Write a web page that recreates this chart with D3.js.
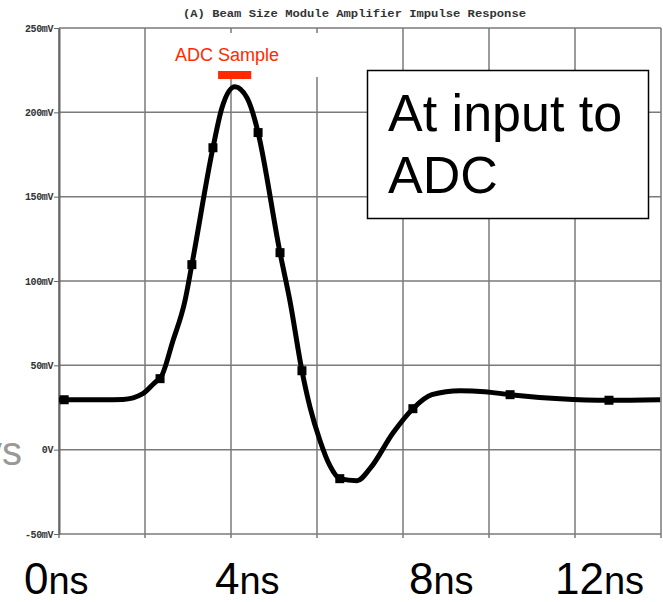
<!DOCTYPE html>
<html>
<head>
<meta charset="utf-8">
<script src="https://cdn.jsdelivr.net/npm/d3@7"></script>
<style>
  body { margin: 0; background: #fff; }
  svg { display: block; }
</style>
</head>
<body>
<div class="chart"></div>
<script>
// WAVEFORM
var timeNs = [0, 0.12, 1.0, 1.49, 1.95, 2.28, 2.35, 2.65, 2.93, 3.09, 3.58, 3.79, 4.09, 4.37, 4.56, 4.63,
  5.14, 5.37, 5.65, 5.84, 6.07, 6.3, 6.53, 6.93, 7.23, 7.77, 8.23, 8.67, 9.33, 9.9, 10.49, 11.65, 12.79, 13.98]
var voltageMv = [29.6, 29.6, 29.6, 29.8, 33.2, 40.9, 42.1, 64.6, 88.3, 109.7, 179, 202.7, 215.2, 208.7, 195, 188,
  116.8, 88.3, 46.8, 24.9, 5.3, -9.5, -17.2, -18.4, -11.3, 10, 24.3, 32.6, 35, 34.4, 32.6, 30.2, 29.3, 29.6]

// SAMPLE MARKERS
var markerTimes = [0.12, 2.35, 3.09, 3.58, 4.63, 5.14, 5.65, 6.53, 8.23, 10.49, 12.79]
var markerValues = [29.6, 42.1, 109.7, 179, 188, 116.8, 46.8, -17.2, 24.3, 32.6, 29.3]

// AXES
var yTicks = [-50, 0, 50, 100, 150, 200, 250]
var yTickLabels = ['-50mV', '0V', '50mV', '100mV', '150mV', '200mV', '250mV']
var xGrid = [0, 2, 4, 6, 8, 10, 12, 14]
var xLabelTimes = [0, 4, 8, 12]
var xLabelDigits = ['0', '4', '8', '12']

var W = 663, H = 602
var margin = { top: 28, right: 2, bottom: 68, left: 59 }
var width = W - margin.left - margin.right
var height = H - margin.top - margin.bottom

var svg = d3.select('div.chart')
  .append('svg')
  .attr('width', W)
  .attr('height', H)

var x = d3.scaleLinear().domain([0, 14]).range([margin.left, margin.left + width])
var y = d3.scaleLinear().domain([-50, 250]).range([margin.top + height, margin.top])

// GRID
var grid = svg.append('g').attr('stroke', '#7a7a7a').attr('stroke-width', 1.5)
grid.selectAll('line.h')
  .data(yTicks)
  .enter().append('line')
  .attr('x1', x(0)).attr('x2', x(14))
  .attr('y1', function(d) { return y(d) })
  .attr('y2', function(d) { return y(d) })
grid.selectAll('line.v')
  .data(xGrid)
  .enter().append('line')
  .attr('x1', function(d) { return x(d) })
  .attr('x2', function(d) { return x(d) })
  .attr('y1', y(250)).attr('y2', y(-50) + 4)

// Y-AXIS
svg.append('g')
  .attr('transform', 'translate(' + x(0) + ',0)')
  .call(d3.axisLeft(y).tickValues(yTicks)
    .tickFormat(function(d, i) { return yTickLabels[i] })
    .tickSizeInner(5).tickSizeOuter(0).tickPadding(1))
  .call(function(g) { g.select('.domain').attr('stroke', '#666').attr('stroke-width', 2) })
  .call(function(g) { g.selectAll('.tick line').attr('stroke', '#666') })
  .selectAll('text')
  .attr('font-family', 'Liberation Mono, monospace')
  .attr('font-size', 10)
  .attr('font-weight', 'bold')
  .attr('letter-spacing', -0.4)
  .attr('fill', '#333')

// TITLE
svg.append('text')
  .attr('x', 183)
  .attr('y', 17)
  .attr('font-family', 'Liberation Mono, monospace')
  .attr('font-size', 11.5)
  .attr('font-weight', 'bold')
  .attr('textLength', 343)
  .attr('lengthAdjust', 'spacingAndGlyphs')
  .attr('fill', '#333')
  .text('(A) Beam Size Module Amplifier Impulse Response')

// WHITE PATCH BEHIND THE ADC SAMPLE NOTE
svg.append('rect')
  .attr('x', 162).attr('y', 33)
  .attr('width', 157).attr('height', 44)
  .attr('fill', '#fff')

// WAVEFORM LINE
var pts = timeNs.map(function(t, i) { return [t, voltageMv[i]] })
var valueline = d3.line()
  .x(function(d) { return x(d[0]) })
  .y(function(d) { return y(d[1]) })
  .curve(d3.curveMonotoneX)

svg.append('path')
  .datum(pts)
  .attr('d', valueline)
  .attr('fill', 'none')
  .attr('stroke', '#000')
  .attr('stroke-width', 5)
  .attr('stroke-linejoin', 'round')

// MARKERS
svg.selectAll('rect.marker')
  .data(markerTimes)
  .enter().append('rect')
  .attr('class', 'marker')
  .attr('x', function(d) { return x(d) - 4.5 })
  .attr('y', function(d, i) { return y(markerValues[i]) - 4.5 })
  .attr('width', 9).attr('height', 9)
  .attr('fill', '#000')

// ADC SAMPLE NOTE
svg.append('rect')
  .attr('x', x(3.7)).attr('y', 71)
  .attr('width', x(4.47) - x(3.7)).attr('height', 8)
  .attr('fill', '#ff2a00')
svg.append('text')
  .attr('x', 175).attr('y', 61)
  .attr('font-family', 'Liberation Sans, Arial, sans-serif')
  .attr('font-size', 18)
  .attr('fill', '#ff2a00')
  .text('ADC Sample')

// "AT INPUT TO ADC" BOX
svg.append('rect')
  .attr('x', 367.5).attr('y', 70.5)
  .attr('width', 281).attr('height', 148)
  .attr('fill', '#fff')
  .attr('stroke', '#000')
  .attr('stroke-width', 1.5)
var boxText = svg.append('text')
  .attr('font-family', 'Liberation Sans, Arial, sans-serif')
  .attr('font-size', 52)
  .attr('fill', '#000')
boxText.append('tspan').attr('x', 388).attr('y', 131).text('At input to')
boxText.append('tspan').attr('x', 388).attr('y', 193).text('ADC')

// X LABELS
var xOffsets = [-35, -16, 6, -20]
xLabelTimes.forEach(function(t, i) {
  var lab = svg.append('text')
    .attr('x', x(t) + xOffsets[i])
    .attr('y', 594)
    .attr('font-family', 'Liberation Sans, Arial, sans-serif')
    .attr('fill', '#000')
  lab.append('tspan').attr('font-size', 44).text(xLabelDigits[i])
  lab.append('tspan').attr('font-size', 38).text('ns')
})

// CUT-OFF SLIDE TEXT ON THE LEFT
svg.append('text')
  .attr('x', 22).attr('y', 465)
  .attr('text-anchor', 'end')
  .attr('font-family', 'Liberation Sans, Arial, sans-serif')
  .attr('font-size', 40)
  .attr('fill', '#999')
  .text('ys')
</script>
</body>
</html>
